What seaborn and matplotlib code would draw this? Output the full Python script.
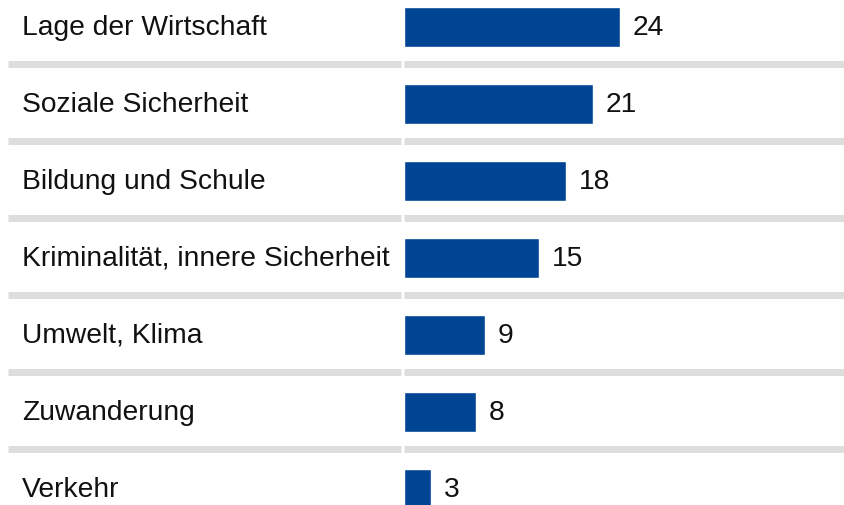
import matplotlib
matplotlib.use("Agg")
import matplotlib.pyplot as plt
import seaborn as sns
import pandas as pd

categories = [
    "Lage der Wirtschaft",
    "Soziale Sicherheit",
    "Bildung und Schule",
    "Kriminalität, innere Sicherheit",
    "Umwelt, Klima",
    "Zuwanderung",
    "Verkehr",
]
values = [24, 21, 18, 15, 9, 8, 3]

sns.set_theme(style="white")
plt.rcParams["font.family"] = ["Liberation Sans", "DejaVu Sans"]

df = pd.DataFrame({"cat": categories, "val": values})

fig = plt.figure(figsize=(8.45, 5.05), dpi=100)
ax = fig.add_axes([0, 0, 1, 1])

sns.barplot(data=df, x="val", y="cat", orient="h", color="#004494",
            saturation=1, width=0.52, ax=ax)

# pixel mapping: x_px = 404 + 9*value ; row center px = 27 + 77*i
ax.set_xlim(-404 / 9, (845 - 404) / 9)
ax.set_ylim((505 - 27) / 77, -27 / 77)

n = len(categories)
for i in range(n - 1):
    yb = i + 0.48
    ax.plot([(8 - 404) / 9, (401 - 404) / 9], [yb, yb], color="#dddddd",
            lw=5.0, solid_capstyle="butt", zorder=1)
    ax.plot([0, (845 - 404) / 9 + 1], [yb, yb], color="#dddddd",
            lw=5.0, solid_capstyle="butt", zorder=1)

for i, (c, v) in enumerate(zip(categories, values)):
    ax.text((22 - 404) / 9, i + 0.01, c, ha="left", va="center",
            fontsize=20.3, color="#111111")
    ax.text(v + 1.4, i + 0.01, str(v), ha="left", va="center",
            fontsize=20.3, color="#111111")

ax.set_axis_off()
fig.savefig("out.png", dpi=100)
